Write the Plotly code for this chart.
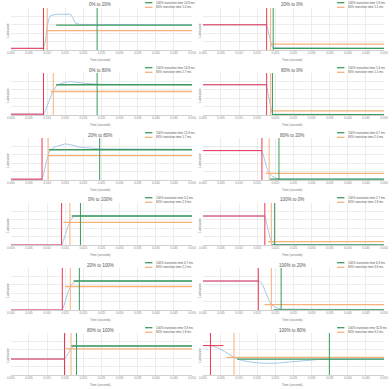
import plotly.graph_objects as go

TITLES = ["0% to 20%", "20% to 0%", "0% to 80%", "80% to 0%", "20% to 80%", "80% to 20%",
          "0% to 100%", "100% to 0%", "20% to 100%", "100% to 20%", "80% to 100%", "100% to 80%"]

# transition markers (seconds)
T_START = [0.0090, 0.0176, 0.0090, 0.0176, 0.0086, 0.0163, 0.0140, 0.0171, 0.0142, 0.0153, 0.0148, 0.0021]
T_80 = [0.0100, 0.0187, 0.0117, 0.0187, 0.0103, 0.0183, 0.0163, 0.0189, 0.0164, 0.0189, 0.0166, 0.0086]
T_100 = [0.0238, 0.0194, 0.0238, 0.0192, 0.0245, 0.0210, 0.0192, 0.0198, 0.0189, 0.0216, 0.0181, 0.0349]
# levels (relative luminance)
Y_START = [4, 60, 2, 72, 2, 70, 0, 69, 0, 69, 38, 70]
Y_80 = [46, 14, 56, 10, 58, 16, 54, 8, 56, 13, 62, 42]
Y_100 = [59, 4, 72, 1, 72, 2, 69, 0, 69, 0, 69, 38]
RED_TO = [0.0092, 0.0176, 0.0090, 0.0176, 0.0086, 0.0163, 0.0140, 0.0171, 0.0142, 0.0153, 0.0148, 0.0057]
H80_FROM = [0.0098, 0.0187, 0.0110, 0.0187, 0.0103, 0.0174, 0.0145, 0.0180, 0.0150, 0.0170, 0.0152, 0.0065]
H100_FROM = [0.0125, 0.0194, 0.0125, 0.0192, 0.0105, 0.0185, 0.0168, 0.0190, 0.0173, 0.0195, 0.0166, 0.0095]

CURVE_T = [
    [0, .009, .0095, .0100, .0105, .011, .0125, .015, .0165, .017, .0178, .019, .05],
    [0, .0176, .0180, .0185, .0190, .0195, .05],
    [0, .009, .0095, .0105, .0115, .0125, .013, .015, .0165, .018, .021, .025, .05],
    [0, .0176, .018, .0185, .019, .0193, .05],
    [0, .0086, .0092, .0098, .0105, .011, .0125, .015, .0165, .019, .022, .025, .05],
    [0, .0163, .0168, .0173, .0178, .0183, .019, .02, .021, .05],
    [0, .014, .0145, .015, .0158, .0165, .0172, .0178, .05],
    [0, .0171, .0175, .018, .0185, .019, .0198, .05],
    [0, .0142, .0147, .0153, .016, .0167, .0173, .0178, .05],
    [0, .0153, .016, .0166, .0172, .0178, .0184, .019, .02, .0216, .05],
    [0, .0148, .0153, .0158, .0163, .0168, .0174, .05],
    [0, .0021, .003, .0045, .006, .0075, .0086, .011, .014, .017, .02, .024, .028, .032, .05],
]
CURVE_Y = [
    [4, 4, 20, 55, 75, 82, 85, 86, 85, 78, 64, 61, 60],
    [60, 60, 45, 25, 10, 5, 4],
    [2, 2, 10, 35, 55, 68, 72, 78, 80, 78, 75, 73, 72],
    [72, 72, 50, 25, 8, 2, 1],
    [2, 2, 20, 45, 65, 72, 80, 86, 84, 78, 76, 74, 73],
    [70, 70, 55, 38, 25, 16, 10, 5, 2, 2],
    [0, 0, 10, 25, 45, 60, 67, 69, 69],
    [69, 69, 55, 35, 18, 8, 1, 0],
    [0, 0, 12, 30, 48, 60, 66, 69, 69],
    [69, 69, 66, 58, 45, 32, 20, 12, 6, 2, 1],
    [38, 38, 44, 52, 60, 65, 69, 69],
    [70, 70, 68, 63, 56, 48, 42, 34, 30, 28, 28, 31, 34, 37, 38],
]

X_RANGE = [0, 0.05]
Y_RANGE = [0, 100]

RED = "#ee3553"
ORANGE = "#f7b27a"
GREEN = "#3c9a5f"
BLUE = "#a6c8ea"
FONT = "Liberation Sans"

W, H = 392, 390
fig = go.Figure()
annotations = []
shapes = []

for i in range(12):
    r, c = divmod(i, 2)
    cx, cy = c * 196, r * 65
    px0, px1, py0, py1 = cx + 7, cx + 192, cy + 8, cy + 50
    sfx = "" if i == 0 else str(i + 1)
    xa, ya = "x" + sfx, "y" + sfx
    fig.update_layout(**{
        "xaxis" + sfx: dict(domain=[px0 / W, px1 / W], anchor=ya, range=X_RANGE, dtick=0.005, tick0=0,
                            tickformat=".3f", tickfont=dict(size=3, color="#888", family=FONT),
                            showgrid=True, gridcolor="#ececec", gridwidth=0.5, zeroline=False,
                            showline=True, linecolor="#d0d0d0", linewidth=0.5, ticks=""),
        "yaxis" + sfx: dict(domain=[1 - py1 / H, 1 - py0 / H], anchor=xa, range=Y_RANGE, dtick=20,
                            showticklabels=False, showgrid=True, gridcolor="#ececec", gridwidth=0.5,
                            zeroline=False),
    })
    common = dict(mode="lines", xaxis=xa, yaxis=ya, showlegend=False, hoverinfo="skip")
    fig.add_trace(go.Scatter(x=CURVE_T[i], y=CURVE_Y[i], line=dict(color=BLUE, width=1), **common))
    fig.add_trace(go.Scatter(x=[X_RANGE[0], RED_TO[i]], y=[Y_START[i]] * 2, line=dict(color=RED, width=1), **common))
    fig.add_trace(go.Scatter(x=[H80_FROM[i], X_RANGE[1]], y=[Y_80[i]] * 2, line=dict(color=ORANGE, width=1.3), **common))
    fig.add_trace(go.Scatter(x=[H100_FROM[i], X_RANGE[1]], y=[Y_100[i]] * 2, line=dict(color=GREEN, width=1.3), **common))
    fig.add_trace(go.Scatter(x=[T_START[i]] * 2, y=Y_RANGE, line=dict(color=RED, width=1), **common))
    fig.add_trace(go.Scatter(x=[T_80[i]] * 2, y=Y_RANGE, line=dict(color=ORANGE, width=1), **common))
    fig.add_trace(go.Scatter(x=[T_100[i]] * 2, y=Y_RANGE, line=dict(color=GREEN, width=1), **common))

    # title
    annotations.append(dict(x=(cx + 98) / W, y=1 - (cy + 5) / H, xref="paper", yref="paper", text=TITLES[i],
                            showarrow=False, font=dict(size=4.5, color="#555", family=FONT), xanchor="center", yanchor="middle"))
    # axis titles
    annotations.append(dict(x=(cx + 98) / W, y=1 - (cy + 60) / H, xref="paper", yref="paper", text="Time (seconds)",
                            showarrow=False, font=dict(size=3, color="#777", family=FONT), xanchor="center", yanchor="middle"))
    annotations.append(dict(x=(cx + 4) / W, y=1 - (cy + 30) / H, xref="paper", yref="paper", text="Luminance",
                            showarrow=False, textangle=-90, font=dict(size=3, color="#777", family=FONT),
                            xanchor="center", yanchor="middle"))
    # legend
    ms100 = (T_100[i] - T_START[i]) * 1000
    ms80 = (T_80[i] - T_START[i]) * 1000
    for k, (col, txt) in enumerate([(GREEN, f"100% transition time {ms100:.1f} ms"),
                                    (ORANGE, f"80% transition time {ms80:.1f} ms")]):
        ly = cy + 2.7 + k * 4.6
        shapes.append(dict(type="line", xref="paper", yref="paper", x0=(cx + 144) / W, x1=(cx + 151.5) / W,
                           y0=1 - ly / H, y1=1 - ly / H, line=dict(color=col, width=1.3)))
        annotations.append(dict(x=(cx + 153) / W, y=1 - ly / H, xref="paper", yref="paper", text=txt,
                                showarrow=False, font=dict(size=3, color="#555", family=FONT),
                                xanchor="left", yanchor="middle"))

fig.update_layout(width=W, height=H, margin=dict(l=0, r=0, t=0, b=0), paper_bgcolor="white",
                  plot_bgcolor="white", annotations=annotations, shapes=shapes, showlegend=False)
fig.write_html("out.html")
